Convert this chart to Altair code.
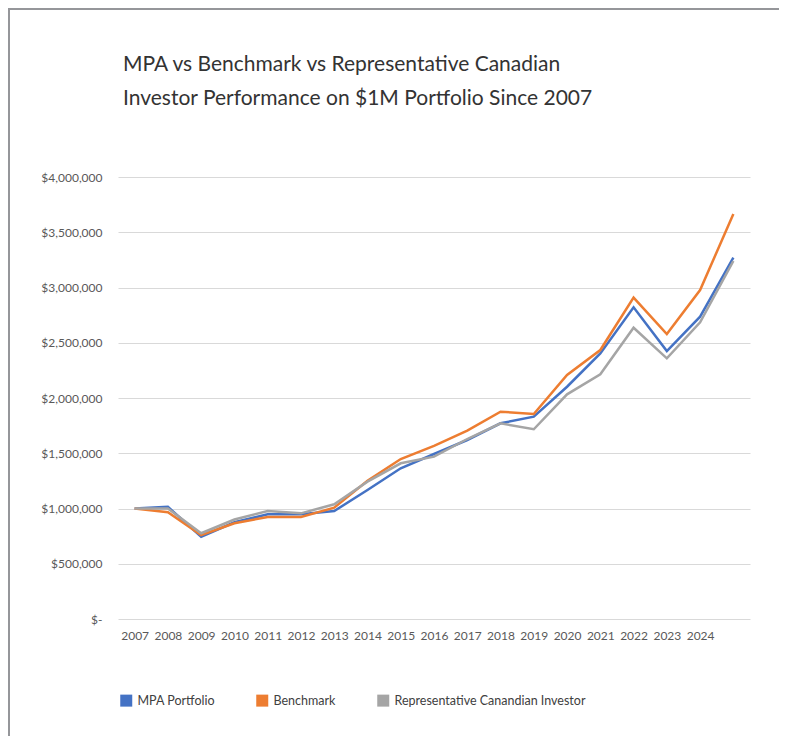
import altair as alt
import pandas as pd

YEARS = list(range(2007, 2026))
AXIS_YEARS = list(range(2007, 2025))
SERIES = ["MPA Portfolio", "Benchmark", "Representative Canandian Investor"]
COLORS = ["#4472C4", "#ED7D31", "#A5A5A5"]

MPA = [1000000, 1015000, 745000, 875000, 947000, 947000, 977000, 1167000, 1364000,
       1493000, 1620000, 1771000, 1831000, 2102000, 2404000, 2821000, 2425000, 2736000, 3270000]
BENCH = [1000000, 966000, 760000, 866000, 923000, 923000, 1007000, 1250000, 1448000,
         1566000, 1704000, 1876000, 1855000, 2208000, 2434000, 2908000, 2579000, 2977000, 3665000]
REP = [1000000, 1000000, 776000, 900000, 977000, 956000, 1038000, 1243000, 1409000,
       1469000, 1629000, 1771000, 1717000, 2033000, 2215000, 2636000, 2359000, 2685000, 3240000]

TITLE_LINES = ["MPA vs Benchmark vs Representative Canadian",
               "Investor Performance on $1M Portfolio Since 2007"]

rows = []
for name, vals in zip(SERIES, [MPA, BENCH, REP]):
    for y, v in zip(YEARS, vals):
        rows.append({"Year": y, "Value": v, "Series": name})
df = pd.DataFrame(rows)

FONT = "Lato"
W, H = 632, 442
PAD = {"left": 110, "top": 169, "right": 31, "bottom": 117}

lines = alt.Chart(df).mark_line(strokeWidth=2.5).encode(
    x=alt.X("Year:Q",
            scale=alt.Scale(domain=[2006.5, 2025.5], nice=False, zero=False),
            axis=alt.Axis(values=AXIS_YEARS, format="d", title=None, grid=False,
                          domain=False, ticks=False, labelPadding=11, labelFontSize=12,
                          labelColor="#595959", labelFont=FONT, labelFlush=False)),
    y=alt.Y("Value:Q",
            scale=alt.Scale(domain=[0, 4000000], nice=False),
            axis=alt.Axis(values=list(range(0, 4000001, 500000)), title=None,
                          labelExpr="datum.value == 0 ? '$-' : '$' + format(datum.value, ',')",
                          domain=False, ticks=False, grid=True, gridColor="#D9D9D9",
                          gridWidth=1, labelPadding=16, labelFontSize=12,
                          labelColor="#595959", labelFont=FONT)),
    color=alt.Color("Series:N",
                    scale=alt.Scale(domain=SERIES, range=COLORS),
                    sort=SERIES,
                    legend=alt.Legend(title=None, orient="none", direction="horizontal",
                                      legendX=2, legendY=517, symbolType="square",
                                      symbolSize=36, symbolStrokeWidth=6,
                                      columnPadding=32, labelOffset=5, padding=0,
                                      labelFontSize=12.5, labelColor="#404040",
                                      labelFont=FONT, labelLimit=600)),
)

title1 = alt.Chart(pd.DataFrame({"t": [TITLE_LINES[0]]})).mark_text(
    align="left", baseline="alphabetic", fontSize=21, font=FONT, color="#333333"
).encode(text="t:N", x=alt.value(5), y=alt.value(-106))
title2 = alt.Chart(pd.DataFrame({"t": [TITLE_LINES[1]]})).mark_text(
    align="left", baseline="alphabetic", fontSize=21, font=FONT, color="#333333"
).encode(text="t:N", x=alt.value(5), y=alt.value(-72))

border_left = alt.Chart(pd.DataFrame({"a": [0]})).mark_rect(color="#95969A").encode(
    x=alt.value(-110), x2=alt.value(-108), y=alt.value(-169), y2=alt.value(H + PAD["bottom"]))
border_top = alt.Chart(pd.DataFrame({"a": [0]})).mark_rect(color="#95969A").encode(
    x=alt.value(-110), x2=alt.value(W + PAD["right"] - 2), y=alt.value(-169), y2=alt.value(-167))

chart = alt.layer(lines, title1, title2, border_left, border_top).properties(
    width=W, height=H,
    padding=PAD,
    autosize=alt.AutoSizeParams(type="none"),
    background="white",
).configure_view(stroke=None)

chart.save("out.html", embed_options={"renderer": "svg", "actions": False})
